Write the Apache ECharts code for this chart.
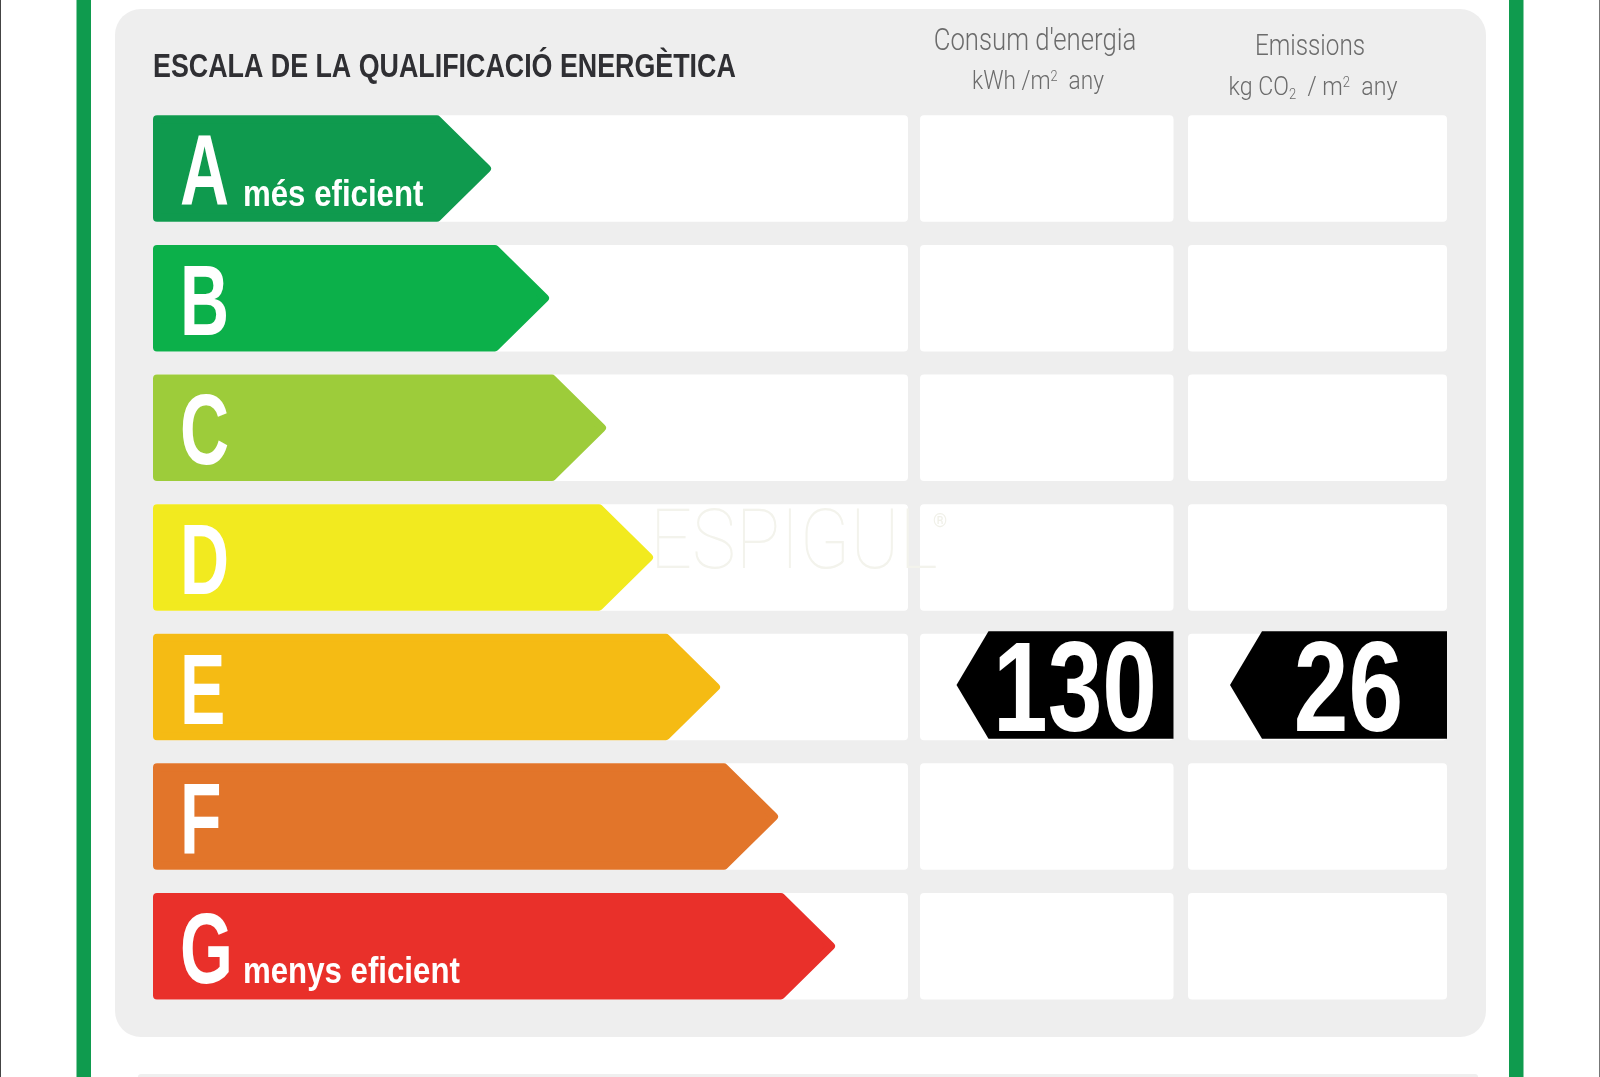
<!DOCTYPE html>
<html>
<head>
<meta charset="utf-8">
<title>Escala de la qualificació energètica</title>
<script src="https://cdn.jsdelivr.net/npm/echarts@6/dist/echarts.min.js"></script>
<style>
html,body{margin:0;padding:0;background:#fff;}
#main{width:1600px;height:1077px;}
</style>
</head>
<body>
<div id="main"></div>
<script>
var grades = ['A', 'B', 'C', 'D', 'E', 'F', 'G'];
var gradeNotes = ['més eficient', '', '', '', '', '', 'menys eficient'];
var gradeColors = ['#0f9a4e', '#0cb04a', '#9dcc3a', '#f2ea1f', '#f5bb14', '#e2752a', '#e9302a'];
// arrow length of each class
var arrowLengths = [338, 396, 453, 500, 567, 625, 682];
var consumValues = [null, null, null, null, 130, null, null];
var emissionValues = [null, null, null, null, 26, null, null];

var SANS = '"Liberation Sans", sans-serif';
var ARROW_MAX = 755;
var ROW_H = 106.5;

var chart = echarts.init(document.getElementById('main'), null, {renderer: 'canvas'});

// white rows behind the arrows and the values
function trackSeries(axisIndex, value) {
    return {
        type: 'bar',
        xAxisIndex: axisIndex,
        yAxisIndex: axisIndex,
        barWidth: ROW_H,
        silent: true,
        z: 1,
        itemStyle: {color: '#fff', borderRadius: 4},
        data: grades.map(function () { return value; })
    };
}

function renderArrow(params, api) {
    var i = params.dataIndex;
    var tip = api.coord([api.value(0), i]);
    var start = api.coord([0, i]);
    var half = api.size([0, 1])[1] * ROW_H / 129.6 / 2;
    var r = 4;
    var shoulder = tip[0] - 53;
    var pts = [
        [start[0] + r, tip[1] - half + r],
        [shoulder - 1, tip[1] - half + r],
        [tip[0] - r, tip[1]],
        [shoulder - 1, tip[1] + half - r],
        [start[0] + r, tip[1] + half - r]
    ];
    var children = [{
        type: 'polygon',
        shape: {points: pts},
        style: {fill: gradeColors[i], stroke: gradeColors[i], lineWidth: r * 2, lineJoin: 'round'}
    }, {
        type: 'text',
        x: start[0] + 27,
        y: tip[1] + 9,
        scaleX: 0.68,
        style: {
            text: grades[i], fill: '#fff', font: 'bold 100px ' + SANS,
            textAlign: 'left', textVerticalAlign: 'middle'
        }
    }];
    if (gradeNotes[i]) {
        children.push({
            type: 'text',
            x: start[0] + 90,
            y: tip[1] + 45,
            scaleX: 0.867,
            style: {
                text: gradeNotes[i], fill: '#fff', font: 'bold 36px ' + SANS,
                textAlign: 'left', textVerticalAlign: 'bottom'
            }
        });
    }
    return {type: 'group', children: children};
}

// black tag, hung from the right end of its column
function renderTag(params, api) {
    var i = params.dataIndex;
    var val = api.value(0);
    var right = api.coord([1, i]);
    var w = 217, neck = 32, half = 53.8, cy = right[1] - 2;
    return {
        type: 'group',
        children: [{
            type: 'polygon',
            shape: {points: [
                [right[0], cy - half],
                [right[0] - w + neck, cy - half],
                [right[0] - w, cy],
                [right[0] - w + neck, cy + half],
                [right[0], cy + half]
            ]},
            style: {fill: '#000'}
        }, {
            type: 'text',
            x: right[0] - 98.5,
            y: right[1] + 9,
            scaleX: 0.768,
            style: {
                text: String(val), fill: '#fff', font: 'bold 128px ' + SANS,
                textAlign: 'center', textVerticalAlign: 'middle'
            }
        }]
    };
}

function headText(x, y, text, size, scaleX, color, rich) {
    var style = {
        text: text, fill: color || '#6b6b6b',
        font: '300 ' + size + 'px Roboto, ' + SANS,
        textAlign: 'center', textVerticalAlign: 'middle'
    };
    if (rich) { style.rich = rich; }
    return {type: 'text', x: x, y: y, scaleX: scaleX, z: 5, style: style};
}

var plainGrids = [
    {left: 153, width: 755, top: 103.8, height: 907.2},
    {left: 920, width: 253.5, top: 103.8, height: 907.2},
    {left: 1188, width: 259, top: 103.8, height: 907.2}
];

chart.setOption({
    animation: false,
    backgroundColor: '#fff',
    grid: plainGrids,
    xAxis: [
        {gridIndex: 0, type: 'value', min: 0, max: ARROW_MAX, show: false},
        {gridIndex: 1, type: 'value', min: 0, max: 1, show: false},
        {gridIndex: 2, type: 'value', min: 0, max: 1, show: false}
    ],
    yAxis: [0, 1, 2].map(function (g) {
        return {gridIndex: g, type: 'category', data: grades, inverse: true, show: false};
    }),
    graphic: [
        // page frame and grey panel
        {type: 'rect', z: -10, shape: {x: 0, y: 0, width: 1, height: 1077}, style: {fill: '#444'}},
        {type: 'rect', z: -10, shape: {x: 1599, y: 0, width: 1, height: 1077}, style: {fill: '#777'}},
        {type: 'rect', z: -10, shape: {x: 76.5, y: 0, width: 14.5, height: 1077}, style: {fill: '#0f9b4e'}},
        {type: 'rect', z: -10, shape: {x: 1509, y: 0, width: 14.5, height: 1077}, style: {fill: '#0f9b4e'}},
        {type: 'rect', z: -10, shape: {x: 115, y: 9, width: 1371, height: 1028, r: 26}, style: {fill: '#eeeeee'}},
        {type: 'rect', z: -10, shape: {x: 138, y: 1074, width: 1340, height: 10, r: 3}, style: {fill: '#efefef'}},
        {
            type: 'text', x: 153, y: 67.5, scaleX: 0.813, z: 5,
            style: {
                text: 'ESCALA DE LA QUALIFICACIÓ ENERGÈTICA', fill: '#2f2f33',
                font: 'bold 33px ' + SANS, textAlign: 'left', textVerticalAlign: 'middle'
            }
        },
        headText(1035, 42, "Consum d'energia", 31, 0.83),
        headText(1038, 83, 'kWh /m{s|2}  any', 25, 0.906, null, {
            s: {font: '300 14px Roboto', fill: '#6b6b6b', verticalAlign: 'top', padding: [0, 0, 12, 0]}
        }),
        headText(1310, 47, 'Emissions', 30, 0.81),
        headText(1313, 89, 'kg CO{d|2}  / m{s|2}  any', 25, 0.926, null, {
            s: {font: '300 14px Roboto', fill: '#6b6b6b', verticalAlign: 'top', padding: [0, 0, 12, 0]},
            d: {font: '300 14px Roboto', fill: '#6b6b6b', verticalAlign: 'bottom', padding: [10, 0, 0, 0]}
        }),
        // watermark
        {
            type: 'text', x: 650, y: 547, scaleX: 0.88, z: 20,
            style: {
                text: 'ESPIGUL', fill: '#f3f3ec', font: '100 84px Roboto',
                textAlign: 'left', textVerticalAlign: 'middle'
            }
        },
        {
            type: 'text', x: 933, y: 522, z: 20,
            style: {text: '®', fill: '#f0f0e8', font: '18px Roboto', textAlign: 'left', textVerticalAlign: 'middle'}
        }
    ],
    series: [
        trackSeries(0, ARROW_MAX),
        trackSeries(1, 1),
        trackSeries(2, 1),
        {
            type: 'custom',
            xAxisIndex: 0, yAxisIndex: 0, z: 3,
            clip: false, silent: true,
            renderItem: renderArrow,
            encode: {x: 0},
            data: arrowLengths.map(function (v) { return [v]; })
        },
        {
            type: 'custom',
            xAxisIndex: 1, yAxisIndex: 1, z: 3,
            clip: false, silent: true,
            renderItem: function (params, api) {
                return consumValues[params.dataIndex] == null ? null : renderTag(params, api);
            },
            data: consumValues.map(function (v) { return [v]; })
        },
        {
            type: 'custom',
            xAxisIndex: 2, yAxisIndex: 2, z: 3,
            clip: false, silent: true,
            renderItem: function (params, api) {
                return emissionValues[params.dataIndex] == null ? null : renderTag(params, api);
            },
            data: emissionValues.map(function (v) { return [v]; })
        }
    ]
});
</script>
</body>
</html>
